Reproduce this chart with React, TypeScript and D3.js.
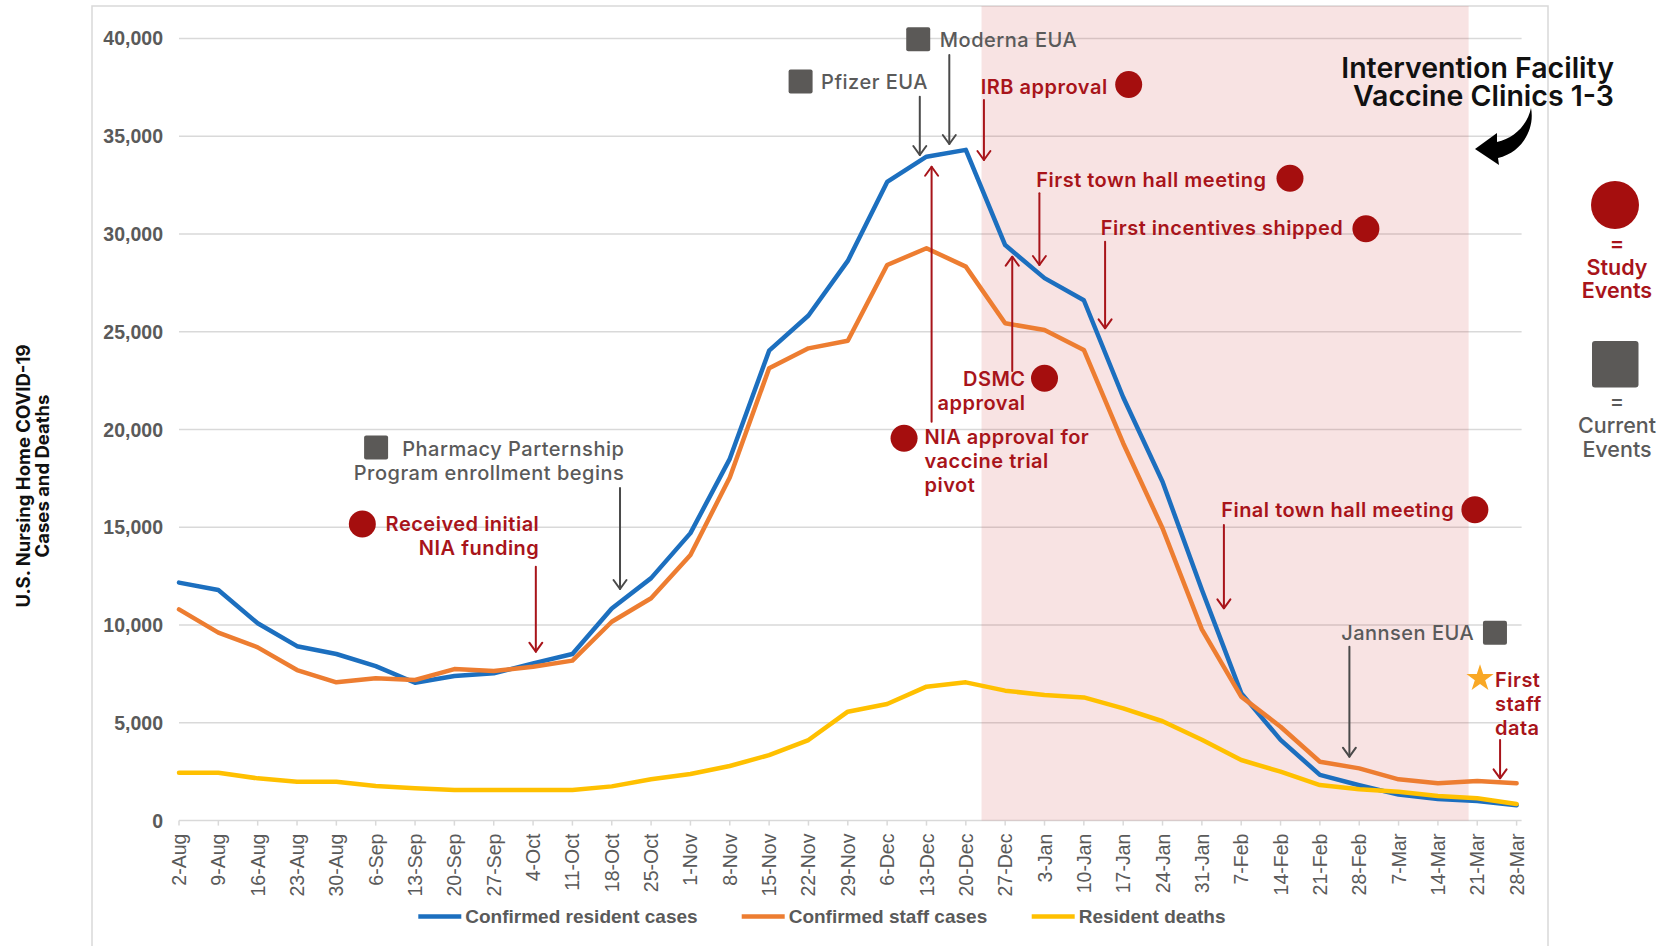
import React from "react";
import * as d3 from "d3";

// ---------- data ----------
const categories = [
  "2-Aug", "9-Aug", "16-Aug", "23-Aug", "30-Aug", "6-Sep", "13-Sep", "20-Sep", "27-Sep",
  "4-Oct", "11-Oct", "18-Oct", "25-Oct", "1-Nov", "8-Nov", "15-Nov", "22-Nov", "29-Nov",
  "6-Dec", "13-Dec", "20-Dec", "27-Dec", "3-Jan", "10-Jan", "17-Jan", "24-Jan", "31-Jan",
  "7-Feb", "14-Feb", "21-Feb", "28-Feb", "7-Mar", "14-Mar", "21-Mar", "28-Mar",
];
const residentCases = [
  12170, 11790, 10090, 8920, 8520, 7900, 7050, 7390, 7530, 8040, 8520, 10850, 12400, 14700,
  18500, 24030, 25830, 28620, 32660, 33950, 34300, 29430, 27740, 26610, 21650, 17330, 11800,
  6520, 4130, 2335, 1810, 1330, 1110, 1000, 790,
];
const staffCases = [
  10800, 9610, 8860, 7700, 7070, 7280, 7190, 7750, 7650, 7870, 8180, 10170, 11370, 13580,
  17550, 23130, 24150, 24540, 28410, 29270, 28330, 25430, 25090, 24070, 19300, 14950, 9780,
  6340, 4800, 3010, 2670, 2110, 1905, 2025, 1905,
];
const residentDeaths = [
  2450, 2450, 2160, 1990, 1990, 1770, 1650, 1565, 1565, 1565, 1565, 1750, 2110, 2380, 2790,
  3350, 4120, 5570, 5960, 6850, 7070, 6645, 6420, 6300, 5740, 5080, 4130, 3100, 2500, 1820,
  1600, 1480, 1260, 1140, 850,
];
const yTicks = [0, 5000, 10000, 15000, 20000, 25000, 30000, 35000, 40000];
const seriesNames = ["Confirmed resident cases", "Confirmed staff cases", "Resident deaths"];
const seriesColors = ["#1C6FBF", "#ED7D31", "#FFC000"];
// vaccine clinic window, in week-index units (≈ 23-Dec to 19-Mar)
const clinicWindow = [20.4, 32.78];

type Ann = {
  type: "study" | "current" | "star";
  marker: [number, number];
  text: string[];
  at: [number, number];
  anchor: "start" | "end";
  arrow: [number, number, number];
};
// annotation anchors in (week index, value) units
const annotations: Ann[] = [
  { type: "current", marker: [5.01, 19074], text: ["Pharmacy Parternship", "Program enrollment begins"], at: [11.32, 18645], anchor: "end", arrow: [11.21, 17009, 11844] },
  { type: "study", marker: [4.66, 15167], text: ["Received initial", "NIA funding"], at: [9.16, 14810], anchor: "end", arrow: [9.07, 12984, 8637] },
  { type: "current", marker: [15.8, 37796], text: ["Pfizer EUA"], at: [16.32, 37397], anchor: "start", arrow: [18.83, 37019, 34038] },
  { type: "current", marker: [18.79, 39959], text: ["Moderna EUA"], at: [19.34, 39576], anchor: "start", arrow: [19.58, 39151, 34600] },
  { type: "study", marker: [24.14, 37643], text: ["IRB approval"], at: [20.38, 37157], anchor: "start", arrow: [20.46, 36850, 33782] },
  { type: "study", marker: [28.24, 32846], text: ["First town hall meeting"], at: [21.79, 32416], anchor: "start", arrow: [21.87, 32079, 28412] },
  { type: "study", marker: [30.17, 30263], text: ["First incentives shipped"], at: [23.43, 29946], anchor: "start", arrow: [23.54, 29604, 25175] },
  { type: "study", marker: [22.0, 22618], text: ["DSMC", "approval"], at: [21.52, 22225], anchor: "end", arrow: [21.18, 22992, 28837] },
  { type: "study", marker: [18.43, 19550], text: ["NIA approval for", "vaccine trial", "pivot"], at: [18.95, 19233], anchor: "start", arrow: [19.13, 20399, 33438] },
  { type: "study", marker: [32.94, 15899], text: ["Final town hall meeting"], at: [26.49, 15541], anchor: "start", arrow: [26.56, 15112, 10857] },
  { type: "current", marker: [33.45, 9604], text: ["Jannsen EUA"], at: [32.92, 9236], anchor: "end", arrow: [29.75, 8893, 3268] },
  { type: "star", marker: [33.07, 7318], text: ["First", "staff", "data"], at: [33.45, 6847], anchor: "start", arrow: [33.58, 4122, 2163] },
];

// ---------- layout ----------
const W = 1671;
const H = 946;
const PLOT = { left: 179, right: 1516.6, top: 38.4, bottom: 820.6 };
const RED = "#A8141A";
const RED_DOT = "#A50E0E";
const GRAY_TXT = "#5A5A5A";
const GRAY_BOX = "#5B5957";
const AXIS_FONT = "'Liberation Sans', Arial, sans-serif";
const ANN_FONT = "Inter, 'Noto Sans', sans-serif";

const x = d3.scaleLinear().domain([0, categories.length - 1]).range([PLOT.left, PLOT.right]);
const y = d3.scaleLinear().domain([0, 40000]).range([PLOT.bottom, PLOT.top]);
const fmt = d3.format(",");

const allSeries = [residentCases, staffCases, residentDeaths];

function Arrow({ ax, v1, v2, color }: { ax: number; v1: number; v2: number; color: string }) {
  const px = x(ax);
  const y1 = y(v1);
  const y2 = y(v2);
  const dir = y2 > y1 ? 1 : -1;
  return (
    <g stroke={color} strokeWidth={2} fill="none" strokeLinecap="round" strokeLinejoin="round">
      <line x1={px} y1={y1} x2={px} y2={y2} />
      <polyline points={`${px - 6.5},${y2 - dir * 9} ${px},${y2} ${px + 6.5},${y2 - dir * 9}`} />
    </g>
  );
}

export default function App() {
  const line = d3.line<number>().x((_, i) => x(i)).y((d) => y(d)).curve(d3.curveLinear);
  const star = d3.symbol().type(d3.symbolStar).size(230)();
  const legendX = [418.3, 741.7, 1031.7];

  return (
    <svg
      width={W}
      height={H}
      viewBox={`0 0 ${W} ${H}`}
      style={{ position: "absolute", left: 0, top: 0, display: "block", background: "#fff" }}
    >
      {/* frame */}
      <rect x={92} y={6} width={1456} height={1000} fill="#fff" stroke="#D9D9D9" strokeWidth={1.5} />

      {/* gridlines */}
      {yTicks.map((t) => (
        <line key={t} x1={PLOT.left} x2={PLOT.right + 5} y1={y(t)} y2={y(t)} stroke="#D9D9D9" strokeWidth={1.5} />
      ))}
      {/* x tick marks */}
      {categories.map((c, i) => (
        <line key={c} x1={x(i)} x2={x(i)} y1={y(0)} y2={y(0) + 5} stroke="#D9D9D9" strokeWidth={1.5} />
      ))}

      {/* clinic window shading */}
      <rect
        x={x(clinicWindow[0])}
        y={6}
        width={x(clinicWindow[1]) - x(clinicWindow[0])}
        height={y(0) - 6}
        fill="rgb(205,60,60)"
        fillOpacity={0.14}
      />

      {/* y tick labels */}
      {yTicks.map((t) => (
        <text
          key={t}
          x={163}
          y={y(t)}
          dy="0.36em"
          textAnchor="end"
          fontFamily={AXIS_FONT}
          fontWeight="bold"
          fontSize={19.5}
          fill={GRAY_TXT}
        >
          {fmt(t)}
        </text>
      ))}

      {/* x tick labels */}
      {categories.map((c, i) => (
        <text
          key={c}
          transform={`translate(${x(i)},${y(0) + 13}) rotate(-90)`}
          dy="0.36em"
          textAnchor="end"
          fontFamily={AXIS_FONT}
          fontSize={19.5}
          fill={GRAY_TXT}
        >
          {c}
        </text>
      ))}

      {/* y axis title */}
      <g fontFamily={ANN_FONT} fontWeight={700} fontSize={18.5} fill="#111" textAnchor="middle">
        <text transform={`translate(30,476) rotate(-90)`}>U.S. Nursing Home COVID-19</text>
        <text transform={`translate(49,476) rotate(-90)`}>Cases and Deaths</text>
      </g>

      {/* series */}
      {allSeries.map((s, k) => (
        <path
          key={seriesNames[k]}
          d={line(s) || ""}
          fill="none"
          stroke={seriesColors[k]}
          strokeWidth={4.5}
          strokeLinejoin="round"
          strokeLinecap="round"
        />
      ))}

      {/* annotations */}
      {annotations.map((a, k) => {
        const isRed = a.type !== "current";
        const col = isRed ? RED : GRAY_TXT;
        const mx = x(a.marker[0]);
        const my = y(a.marker[1]);
        return (
          <g key={k}>
            <Arrow ax={a.arrow[0]} v1={a.arrow[1]} v2={a.arrow[2]} color={isRed ? RED : "#4A4A4A"} />
            {a.type === "study" && <circle cx={mx} cy={my} r={13.5} fill={RED_DOT} />}
            {a.type === "current" && (
              <rect x={mx - 12} y={my - 12} width={24} height={24} rx={2} fill={GRAY_BOX} />
            )}
            {a.type === "star" && <path d={star || ""} transform={`translate(${mx},${my + 1})`} fill="#F9A825" />}
            <text
              fontFamily={ANN_FONT}
              fontWeight={isRed ? 600 : 500}
              fontSize={20}
              letterSpacing={0.5}
              fill={col}
              textAnchor={a.anchor}
            >
              {a.text.map((t, j) => (
                <tspan key={j} x={x(a.at[0])} y={y(a.at[1]) + j * 24}>
                  {t}
                </tspan>
              ))}
            </text>
          </g>
        );
      })}

      {/* intervention facility label */}
      <g fontFamily={ANN_FONT} fontWeight={600} fontSize={28.5} fill="#111" textAnchor="end">
        <text x={1614} y={78}>Intervention Facility</text>
        <text x={1614} y={106}>Vaccine Clinics 1-3</text>
      </g>
      <path
        d="M1531,108 C1535,128 1523,152 1498,158 L1499,165 L1475,149 L1497,133 L1497,142 C1514,138 1527,126 1531,108 Z"
        fill="#000"
      />

      {/* right-side key */}
      <g fontFamily={ANN_FONT} textAnchor="middle" fontSize={21.5}>
        <circle cx={1615} cy={205} r={24} fill={RED_DOT} />
        <text x={1617} y={251} fill={RED} fontWeight={600}>=</text>
        <text x={1617} y={275} fill={RED} fontWeight={600}>Study</text>
        <text x={1617} y={298} fill={RED} fontWeight={600}>Events</text>
        <rect x={1592} y={341} width={46.5} height={46.5} rx={3} fill={GRAY_BOX} />
        <text x={1617} y={409} fill={GRAY_TXT} fontWeight={500}>=</text>
        <text x={1617} y={433} fill={GRAY_TXT} fontWeight={500}>Current</text>
        <text x={1617} y={457} fill={GRAY_TXT} fontWeight={500}>Events</text>
      </g>

      {/* legend */}
      {seriesNames.map((n, k) => (
        <g key={n}>
          <line x1={legendX[k]} x2={legendX[k] + 43} y1={916.5} y2={916.5} stroke={seriesColors[k]} strokeWidth={4.5} />
          <text
            x={legendX[k] + 47}
            y={923.3}
            fontFamily={AXIS_FONT}
            fontWeight="bold"
            fontSize={19}
            fill={GRAY_TXT}
          >
            {n}
          </text>
        </g>
      ))}
    </svg>
  );
}
